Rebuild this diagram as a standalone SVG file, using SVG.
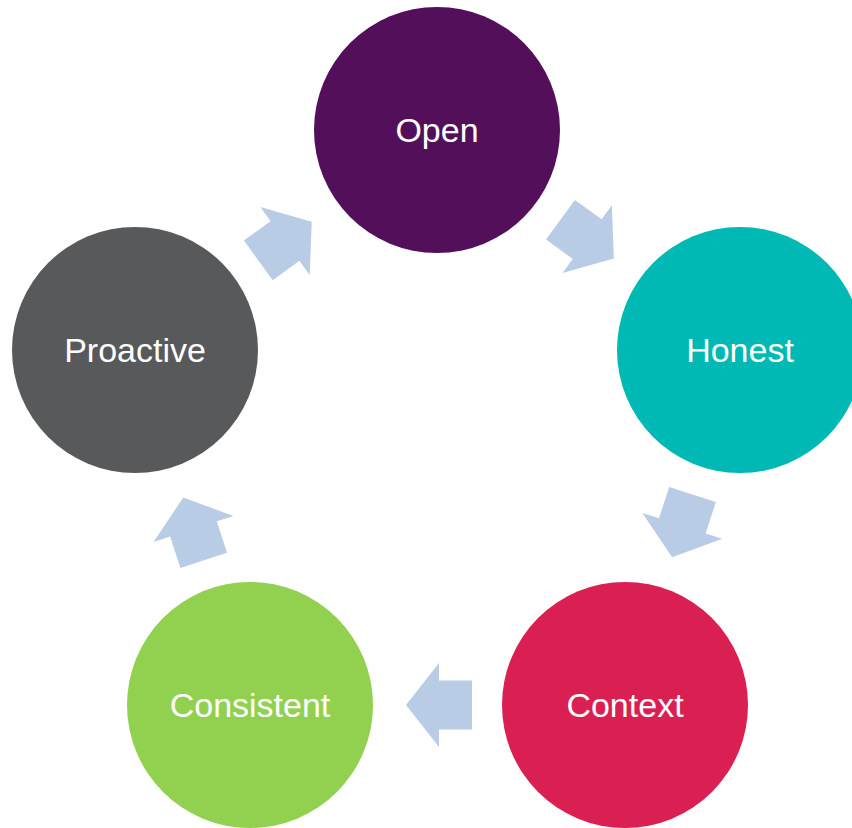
<svg xmlns="http://www.w3.org/2000/svg" width="852" height="828" viewBox="0 0 852 828">
<style>
.lbl{font-family:"Liberation Sans",Arial,sans-serif;font-size:34px;fill:#FFFFFF;text-anchor:middle}
.arr{fill:#B8CCE6}
</style>
<defs>
<polygon id="arrow" points="406,705 439,663 439,680.5 472,680.5 472,729.5 439,729.5 439,747"/>
</defs>
<rect width="852" height="828" fill="#FFFFFF"/>
<g id="connectors">
<use href="#arrow" class="arr" transform="rotate(-144 437.4 448)"/>
<use href="#arrow" class="arr" transform="rotate(-72 437.4 448)"/>
<use href="#arrow" class="arr"/>
<use href="#arrow" class="arr" transform="rotate(72 437.4 448)"/>
<use href="#arrow" class="arr" transform="rotate(144 437.4 448)"/>
</g>
<g id="open"><circle cx="437" cy="130" r="123" fill="#530F5A"/><text class="lbl" x="437" y="142">Open</text></g>
<g id="honest"><circle cx="740" cy="350" r="123" fill="#00B8B4"/><text class="lbl" x="740" y="362">Honest</text></g>
<g id="context"><circle cx="625" cy="705" r="123" fill="#DA1F52"/><text class="lbl" x="625" y="717">Context</text></g>
<g id="consistent"><circle cx="250" cy="705" r="123" fill="#92D050"/><text class="lbl" x="250" y="717">Consistent</text></g>
<g id="proactive"><circle cx="135" cy="350" r="123" fill="#58595B"/><text class="lbl" x="135" y="362">Proactive</text></g>
</svg>
